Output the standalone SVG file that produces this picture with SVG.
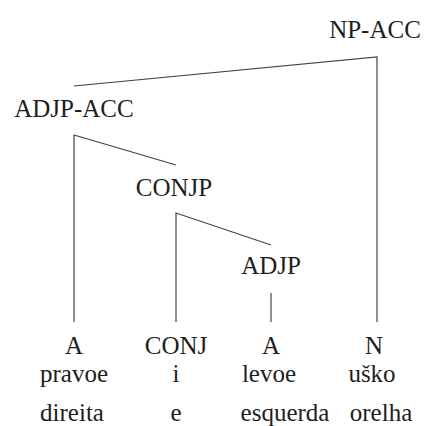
<svg xmlns="http://www.w3.org/2000/svg" width="425" height="426" viewBox="0 0 425 426">
  <style>
    .lbl { font-family: "Liberation Serif", "Times New Roman", serif; font-size: 25px; fill: #1e1e1e; text-anchor: middle; }
    .edge { stroke: #444; stroke-width: 1.2; fill: none; }
  </style>
  <rect width="425" height="426" fill="#fff"/>

  <!-- tree branches -->
  <g id="connectors">
    <polyline class="edge" points="74,86 377,57 377,322"/>
    <polyline class="edge" points="176,165 74,135 74,322"/>
    <polyline class="edge" points="271,245 176,213 176,322"/>
    <line class="edge" x1="271" y1="293" x2="271" y2="322"/>
  </g>

  <g class="lbl">
    <!-- phrase nodes -->
    <g id="np-acc"><text x="375" y="38">NP-ACC</text></g>
    <g id="adjp-acc"><text x="74" y="117">ADJP-ACC</text></g>
    <g id="conjp"><text x="174" y="196">CONJP</text></g>
    <g id="adjp"><text x="271" y="274">ADJP</text></g>

    <!-- leaves: tag, word, gloss -->
    <g id="leaf-a1">
      <text x="74" y="354">A</text>
      <text x="74" y="382">pravoe</text>
      <text x="72" y="421">direita</text>
    </g>
    <g id="leaf-conj">
      <text x="176" y="354">CONJ</text>
      <text x="176" y="382">i</text>
      <text x="176" y="421">e</text>
    </g>
    <g id="leaf-a2">
      <text x="271" y="354">A</text>
      <text x="269" y="382">levoe</text>
      <text x="285" y="421">esquerda</text>
    </g>
    <g id="leaf-n">
      <text x="374" y="354">N</text>
      <text x="372" y="382">uško</text>
      <text x="381" y="421">orelha</text>
    </g>
  </g>
</svg>
